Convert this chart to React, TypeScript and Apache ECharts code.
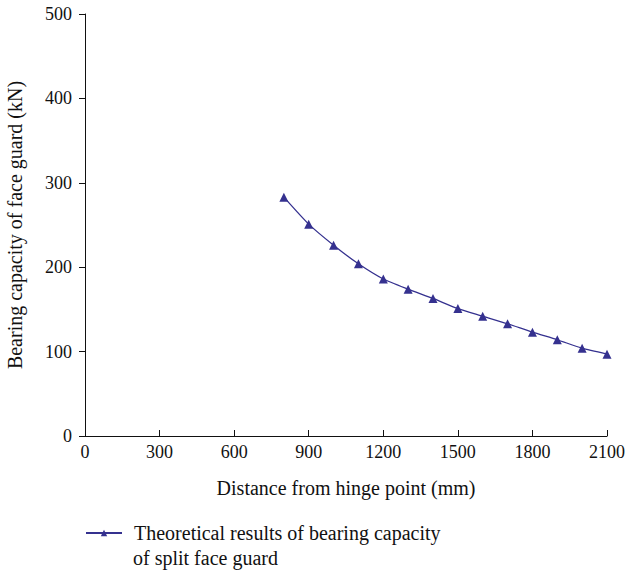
import React, { useEffect, useRef } from "react";
import * as echarts from "echarts";

const distances = [800, 900, 1000, 1100, 1200, 1300, 1400, 1500, 1600, 1700, 1800, 1900, 2000, 2100];
const capacities = [283, 251, 226, 204, 186, 174, 163, 151, 142, 133, 123, 114, 104, 97];
const legendLine1 = "Theoretical results of bearing capacity";
const legendLine2 = "of split face guard";
const seriesName = legendLine1 + " " + legendLine2;

const FONT = "Liberation Serif";
const COLOR = "#35318f";

export default function App() {
  const ref = useRef<HTMLDivElement>(null);
  useEffect(() => {
    if (!ref.current) return;
    const chart = echarts.init(ref.current, undefined, { renderer: "svg" });
    chart.setOption({
      animation: false,
      backgroundColor: "#ffffff",
      textStyle: { fontFamily: FONT },
      grid: {
        left: 85,
        top: 14,
        right: 22,
        bottom: 135,
        containLabel: false,
        outerBoundsMode: "none",
      },
      xAxis: {
        type: "value",
        min: 0,
        max: 2100,
        interval: 300,
        name: "Distance from hinge point (mm)",
        nameLocation: "middle",
        nameGap: 42,
        nameTextStyle: { fontFamily: FONT, fontSize: 20, color: "#111" },
        axisLine: { lineStyle: { color: "#111", width: 1 } },
        axisTick: { inside: true, length: 6, lineStyle: { color: "#111" } },
        axisLabel: {
          fontFamily: FONT,
          fontSize: 18,
          color: "#111",
          margin: 7,
          formatter: (v: number) => String(v),
        },
        splitLine: { show: false },
      },
      yAxis: {
        type: "value",
        min: 0,
        max: 500,
        interval: 100,
        name: "Bearing capacity of face guard (kN)",
        nameLocation: "middle",
        nameGap: 60,
        nameTextStyle: { fontFamily: FONT, fontSize: 20, color: "#111" },
        axisLine: { show: true, lineStyle: { color: "#111", width: 1 } },
        axisTick: { show: true, inside: false, length: 6, lineStyle: { color: "#111" } },
        axisLabel: {
          fontFamily: FONT,
          fontSize: 18,
          color: "#111",
          margin: 13,
          formatter: (v: number) => String(v),
        },
        splitLine: { show: false },
      },
      legend: {
        show: true,
        left: 85,
        top: 523,
        padding: 0,
        itemWidth: 36,
        itemHeight: 8,
        textStyle: { fontFamily: FONT, fontSize: 20, color: "#111", padding: [0, 0, 0, 7] },
        formatter: () => legendLine1,
        data: [seriesName],
      },
      graphic: [
        {
          type: "text",
          left: 133,
          top: 548,
          style: { text: legendLine2, font: `20px "${FONT}"`, fill: "#111" },
        },
      ],
      series: [
        {
          name: seriesName,
          type: "line",
          data: distances.map((d, i) => [d, capacities[i]]),
          smooth: 0.2,
          symbol: "triangle",
          symbolSize: 9,
          lineStyle: { color: COLOR, width: 1.3 },
          itemStyle: { color: COLOR },
        },
      ],
    });
    return () => chart.dispose();
  }, []);
  return <div ref={ref} style={{ width: 629, height: 571, position: "absolute", left: 0, top: 0 }} />;
}
